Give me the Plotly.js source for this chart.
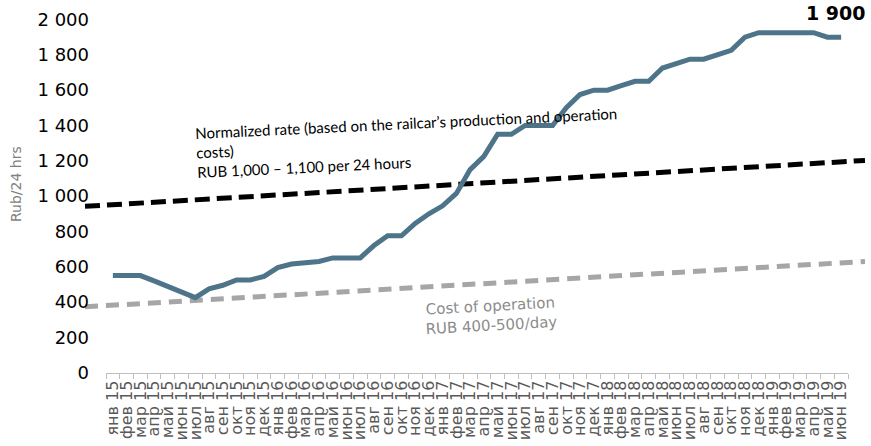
<!DOCTYPE html>
<html>
<head>
<meta charset="utf-8">
<script src="https://cdn.plot.ly/plotly-3.0.1.min.js"></script>
<style>html,body{margin:0;padding:0;background:#fff;}#chart{width:871px;height:446px;}</style>
</head>
<body>
<div id="chart"></div>
<script>
// Month labels (Jan 2015 .. Jun 2019)
var categories = [
  "янв 15","фев 15","мар 15","апр 15","май 15","июн 15","июл 15","авг 15","сен 15","окт 15","ноя 15","дек 15",
  "янв 16","фев 16","мар 16","апр 16","май 16","июн 16","июл 16","авг 16","сен 16","окт 16","ноя 16","дек 16",
  "янв 17","фев 17","мар 17","апр 17","май 17","июн 17","июл 17","авг 17","сен 17","окт 17","ноя 17","дек 17",
  "янв 18","фев 18","мар 18","апр 18","май 18","июн 18","июл 18","авг 18","сен 18","окт 18","ноя 18","дек 18",
  "янв 19","фев 19","мар 19","апр 19","май 19","июн 19"
];
// Market rate, RUB per 24 hours
var rateValues = [
  550,550,550,520,490,460,425,475,495,525,525,545,
  595,615,620,630,650,650,650,720,775,775,845,900,
  945,1015,1150,1225,1350,1350,1400,1400,1400,1500,1575,1600,
  1600,1625,1650,1650,1725,1750,1775,1775,1800,1825,1900,1925,
  1925,1925,1925,1925,1900,1900
];
// Trend lines across the full chart width (start, end)
var trendPos = [0, 1];
var normRate = [942, 1202];
var opCost = [373, 630];

var lastLabel = "1 900";
var yTitle = "Rub/24 hrs";
var normText = "Normalized rate (based on the railcar’s production and operation<br>costs)<br>RUB 1,000 – 1,100 per 24 hours";
var costText = "Cost of operation<br>RUB 400-500/day";

var W = 871, H = 446;
var yDom = [(H - 372.7) / H, (H - 19.5) / H];

var traces = [
  {x: trendPos, y: normRate, xaxis: 'x', yaxis: 'y', mode: 'lines', hoverinfo: 'skip',
   line: {color: '#000000', width: 5, dash: '15px,7px'}},
  {x: trendPos, y: opCost, xaxis: 'x', yaxis: 'y', mode: 'lines', hoverinfo: 'skip',
   line: {color: '#a6a6a6', width: 5, dash: '13px,8px'}},
  {x: categories, y: rateValues, xaxis: 'x2', yaxis: 'y2', mode: 'lines',
   line: {color: '#4e7489', width: 5}}
];

var layout = {
  width: W, height: H,
  margin: {l: 0, r: 0, t: 0, b: 0, pad: 0},
  paper_bgcolor: '#ffffff', plot_bgcolor: 'rgba(0,0,0,0)',
  showlegend: false,
  separators: ', ',
  font: {family: 'DejaVu Sans, Verdana, sans-serif', color: '#000'},
  xaxis: {domain: [85 / W, 865 / W], range: [0, 1], visible: false, anchor: 'y', fixedrange: true},
  yaxis: {domain: yDom, range: [0, 2000], visible: false, anchor: 'x', fixedrange: true},
  xaxis2: {
    domain: [106 / W, 848 / W], anchor: 'y2', type: 'category',
    categoryorder: 'array', categoryarray: categories,
    tickmode: 'array', tickvals: categories, ticktext: categories,
    range: [-0.5, categories.length - 0.5],
    tickson: 'boundaries', ticks: 'outside', ticklen: 5, tickwidth: 1, tickcolor: '#bfbfbf',
    showline: true, linecolor: '#bfbfbf', linewidth: 1.5,
    showgrid: false, zeroline: false, tickangle: -90,
    tickfont: {family: 'DejaVu Sans, Verdana, sans-serif', size: 16, color: '#595959'},
    automargin: false, fixedrange: true
  },
  yaxis2: {
    domain: yDom, anchor: 'x2', range: [0, 2000], dtick: 200, tick0: 0,
    tickformat: ',d', showgrid: false, zeroline: false, showline: false, ticks: '',
    ticklabelstandoff: 16,
    tickfont: {family: 'DejaVu Sans, Verdana, sans-serif', size: 18, color: '#000'},
    automargin: false, fixedrange: true
  },
  annotations: [
    {xref: 'x2', yref: 'y2', x: categories[categories.length - 1], y: rateValues[rateValues.length - 1],
     text: '<b>' + lastLabel + '</b>', showarrow: false, xanchor: 'center', yanchor: 'bottom',
     xshift: -5, yshift: 11,
     font: {family: 'DejaVu Sans, Verdana, sans-serif', size: 19, color: '#000'}},
    {xref: 'paper', yref: 'paper', x: 16 / W, y: (H - 184) / H, text: yTitle, textangle: -90,
     showarrow: false, xanchor: 'center', yanchor: 'middle',
     font: {family: 'DejaVu Sans, Verdana, sans-serif', size: 14, color: '#7f7f7f'}},
    {xref: 'paper', yref: 'paper', x: 407 / W, y: (H - 142) / H, text: normText, textangle: -2.7,
     showarrow: false, xanchor: 'center', yanchor: 'middle', align: 'left',
     font: {family: 'Lato, sans-serif', size: 15, color: '#000'}},
    {xref: 'paper', yref: 'paper', x: 491 / W, y: (H - 316) / H, text: costText, textangle: -3.2,
     showarrow: false, xanchor: 'center', yanchor: 'middle', align: 'center',
     font: {family: 'DejaVu Sans, Verdana, sans-serif', size: 15, color: '#8c8c8c'}}
  ]
};

Plotly.newPlot('chart', traces, layout, {displayModeBar: false, staticPlot: true});
</script>
</body>
</html>
